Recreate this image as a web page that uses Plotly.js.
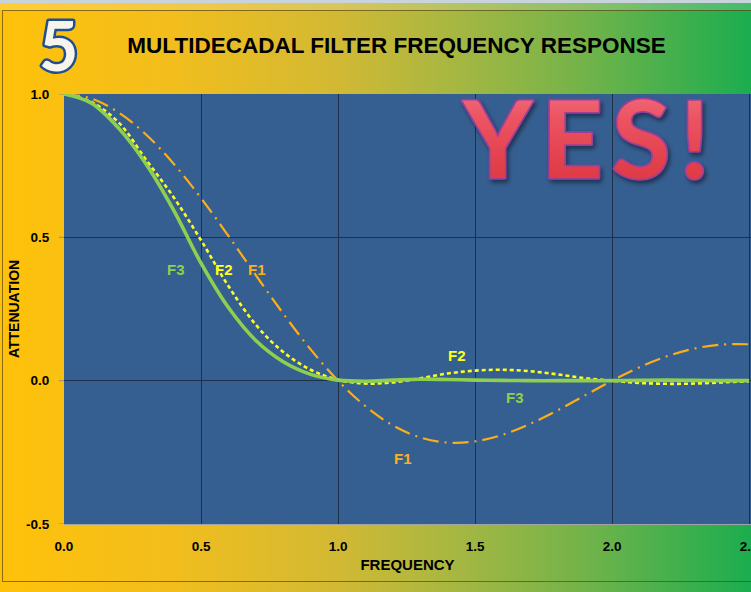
<!DOCTYPE html>
<html>
<head>
<meta charset="utf-8">
<script src="https://cdn.plot.ly/plotly-3.0.1.min.js"></script>
<style>
  html, body { margin:0; padding:0; width:751px; height:592px; overflow:hidden; }
  body { background: linear-gradient(to right, #FFC20A 0%, #F3BE1C 22%, #D2B934 45%, #A8B741 60%, #72B34A 78%, #1BAD4F 100%); position:relative; }
  #topstrip { position:absolute; left:0; top:0; width:751px; height:3px; background:#c9d3dc; }
  #topband { position:absolute; left:0; top:3px; width:751px; height:7px; background:rgba(255,255,255,0.18); }
  #frame { position:absolute; left:2px; top:10px; width:760px; height:572px; border:1px solid rgba(90,70,20,0.7); box-sizing:border-box; }
  #chart { position:absolute; left:0; top:0; width:751px; height:592px; }
  .annotation[data-index="0"] text { stroke:#1F4E91; stroke-width:5px; paint-order:stroke fill; stroke-linejoin:round; }
  .annotation[data-index="1"] text { stroke:#9A3F9C; stroke-width:3.5px; paint-order:stroke fill; stroke-linejoin:round; fill:url(#yesgrad) !important; letter-spacing:9px; }
  .annotation[data-index="1"] { filter: drop-shadow(2px 3px 2px rgba(0,0,0,0.45)); }
</style>
</head>
<body>
<div id="topstrip"></div>
<div id="topband"></div>
<div id="frame"></div>
<div id="chart"></div>
<script>
// ---- data ----
var freq = [0.0,0.1,0.2,0.3,0.4,0.5,0.6,0.7,0.8,0.9,1.0,1.1,1.2,1.3,1.4,1.5,1.6,1.7,1.8,1.9,2.0,2.1,2.2,2.3,2.4,2.5];
var F1 = [1.0,0.984,0.935,0.858,0.757,0.637,0.505,0.368,0.234,0.109,0.0,-0.089,-0.156,-0.198,-0.216,-0.212,-0.189,-0.151,-0.104,-0.052,0.0,0.047,0.085,0.112,0.126,0.127];
var F2 = [1.0,0.972,0.9,0.77,0.64,0.49,0.33,0.195,0.10,0.038,0.003,-0.01,-0.006,0.008,0.025,0.035,0.038,0.033,0.022,0.009,0.0,-0.008,-0.011,-0.01,-0.006,-0.002];
var F3 = [1.0,0.968,0.88,0.755,0.595,0.41,0.255,0.14,0.066,0.022,0.002,-0.002,0.002,0.005,0.004,0.002,0.001,0.0,0.0,0.0,0.0,0.001,0.002,0.001,0.0,0.0];
var yTicks = [-0.5, 0.0, 0.5, 1.0];
var yTickText = ["-0.5", "0.0", "0.5", "1.0"];
var xTicks = [0.0, 0.5, 1.0, 1.5, 2.0, 2.5];
var xTickText = ["0.0", "0.5", "1.0", "1.5", "2.0", "2.5"];
var titleText = "MULTIDECADAL FILTER FREQUENCY RESPONSE";
var xTitle = "FREQUENCY";
var yTitle = "ATTENUATION";
var seriesLabels = [
  {text:"F3", x:0.409, y:0.388, color:"#8FCF4F"},
  {text:"F2", x:0.584, y:0.388, color:"#FFFF1A"},
  {text:"F1", x:0.704, y:0.388, color:"#FBB01A"},
  {text:"F2", x:1.433, y:0.087, color:"#FFFF1A"},
  {text:"F3", x:1.646, y:-0.057, color:"#8FCF4F"},
  {text:"F1", x:1.238, y:-0.27, color:"#FBB01A"}
];

var baseFont = "'Liberation Sans', Arial, sans-serif";

var traces = [
  {x:freq, y:F1, mode:"lines", name:"F1", line:{color:"#FBAE17", width:2.2, dash:"16px,6px,2px,6px", shape:"spline", smoothing:1}},
  {x:freq, y:F2, mode:"lines", name:"F2", line:{color:"#FFFF1A", width:2.6, dash:"4px,3px", shape:"spline", smoothing:1}},
  {x:freq, y:F3, mode:"lines", name:"F3", line:{color:"#8FCF4F", width:3.6, shape:"spline", smoothing:1}}
];

var annotations = [
  {text:"<b>5</b>", xref:"paper", yref:"paper", x:-0.0087, y:1.116, xanchor:"center", yanchor:"middle", showarrow:false,
   height:60, valign:"middle",
   font:{family:"Lato, 'Open Sans', sans-serif", size:68, color:"#F7F4EC"}},
  {text:"<b>YES!</b>", xref:"paper", yref:"paper", x:0.766, y:0.902, xanchor:"center", yanchor:"middle", showarrow:false,
   font:{family:"Lato, 'Open Sans', sans-serif", size:107, color:"#E8454F"}}
];
seriesLabels.forEach(function(l){
  annotations.push({text:"<b>"+l.text+"</b>", x:l.x, y:l.y, xref:"x", yref:"y", showarrow:false,
    xanchor:"center", yanchor:"middle", font:{family:baseFont, size:15, color:l.color}});
});

// short visible tick marks on the y axis, one per y tick value
var tickShapes = yTicks.map(function(v){
  return {type:"line", xref:"paper", yref:"y", x0:-0.0073, x1:0, y0:v, y1:v, line:{color:"#8A8A8A", width:1}};
});

var layout = {
  width:751, height:592,
  margin:{l:64, r:0, t:94, b:68, pad:0},
  paper_bgcolor:"rgba(0,0,0,0)",
  plot_bgcolor:"#365F91",
  showlegend:false,
  title:{text:"<b>"+titleText+"</b>", xref:"container", yref:"container", x:0.528, y:0.924, xanchor:"center", yanchor:"middle",
    font:{family:baseFont, size:22.5, color:"#000"}},
  xaxis:{range:[0, 2.507], tickvals:xTicks, ticktext:xTickText.map(function(t){return "<b>"+t+"</b>";}),
    showgrid:true, gridcolor:"#1F3049", gridwidth:1, zeroline:false,
    showline:true, linecolor:"#A0A4A8", linewidth:1, ticks:"outside", ticklen:10, tickcolor:"rgba(0,0,0,0)",
    ticklabeloverflow:"allow",
    tickfont:{family:baseFont, size:13.5, color:"#000"},
    title:{text:"<b>"+xTitle+"</b>", font:{family:baseFont, size:15, color:"#000"}, standoff:6}},
  yaxis:{range:[-0.5, 1.0], tickvals:yTicks, ticktext:yTickText.map(function(t){return "<b>"+t+"</b>";}),
    showgrid:true, gridcolor:"#1F3049", gridwidth:1, zeroline:false,
    showline:false, ticks:"outside", ticklen:11, tickcolor:"rgba(0,0,0,0)",
    tickfont:{family:baseFont, size:13.5, color:"#000"},
    title:{text:"<b>"+yTitle+"</b>", font:{family:baseFont, size:14, color:"#000"}, standoff:3}},
  shapes:tickShapes,
  annotations:annotations
};

Plotly.newPlot("chart", traces, layout, {displayModeBar:false, staticPlot:true}).then(function(gd){
  var svg = gd.querySelector("svg.main-svg");
  var ns = "http://www.w3.org/2000/svg";
  var defs = document.createElementNS(ns, "defs");
  var lg = document.createElementNS(ns, "linearGradient");
  lg.setAttribute("id", "yesgrad");
  lg.setAttribute("x1", "0"); lg.setAttribute("y1", "0"); lg.setAttribute("x2", "0"); lg.setAttribute("y2", "1");
  [["0%","#F47C8A"],["35%","#EC5463"],["70%","#E2404B"],["100%","#D9343F"]].forEach(function(s){
    var st = document.createElementNS(ns, "stop");
    st.setAttribute("offset", s[0]); st.setAttribute("stop-color", s[1]);
    lg.appendChild(st);
  });
  defs.appendChild(lg);
  svg.insertBefore(defs, svg.firstChild);
});
</script>
</body>
</html>
